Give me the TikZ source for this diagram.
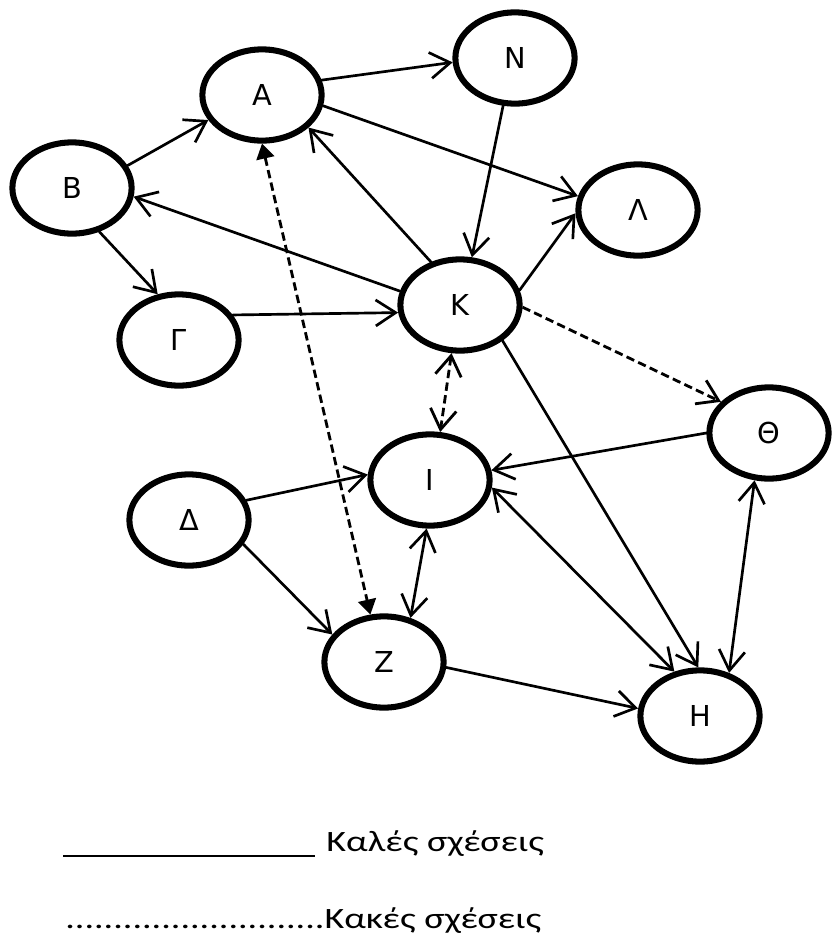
\documentclass[tikz,border=0pt]{standalone}
\usepackage{fontspec}
\setmainfont{DejaVu Sans}
\newfontfamily\legendfont[FakeStretch=1.29]{Carlito}
\usetikzlibrary{shapes.geometric,arrows.meta}

\begin{document}
\begin{tikzpicture}[x=0.025cm, y=-0.025cm, line join=round, line cap=round,
  line width=1.9pt, font=\fontsize{20.5}{24}\selectfont,
  >={Straight Barb[length=0.5cm,width=0.65cm]},
  person/.style={ellipse, draw, line width=4.3pt, minimum width=2.98cm, minimum height=2.28cm, inner sep=0pt},
  bad/.style={line cap=butt, line width=2pt, dash pattern=on 0.21cm off 0.11cm},
  legend/.style={anchor=base west, inner sep=0pt, font=\legendfont\fontsize{21}{25}\selectfont}]
\useasboundingbox (0,0) rectangle (831,934);
% persons
\node[person] (A) at (262,95) {Α};
\node[person] (B) at (72,188) {Β};
\node[person] (G) at (179,340) {Γ};
\node[person] (N) at (515,58) {Ν};
\node[person] (L) at (638,210) {Λ};
\node[person] (K) at (460,305) {Κ};
\node[person] (Th) at (769,433) {Θ};
\node[person] (I) at (430,480) {Ι};
\node[person] (D) at (189,520) {Δ};
\node[person] (Z) at (384,662) {Ζ};
\node[person] (H) at (700,716) {Η};
% good relations
\draw[->] (B.22) -- (A.205);
\draw[->] (A.14) -- (N.184);
\draw[->] (A.350) -- (L.167);
\draw[->] (K.124) -- (A.325);
\draw[->] (K.167) -- (B.352);
\draw[->] (B.302) -- (G.115);
\draw[->] (G.25) -- (K.187);
\draw[->] (N.256) -- (K.76);
\draw[->] (K.14) -- (L.183);
\draw[->] (Th.180) -- (I.9);
\draw[->] (D.19) -- (I.175);
\draw[->] (D.336) -- (Z.152);
\draw[<->] (I.266) -- (Z.59);
\draw[<->] (I.353) -- (H.120);
\draw[->] (K.320) -- (H.92);
\draw[<->] (Th.253) -- (H.56);
\draw[->] (Z.355) -- (H.173);
% bad relations
\draw[bad,->] (K.358) -- (Th.147);
\draw[bad,<->] (K.260) -- (I.78);
\draw[bad,{Triangle[length=0.375cm,width=0.45cm]}-{Triangle[length=0.375cm,width=0.45cm]}] (A.270) -- (Z.106);
% legend
\draw[line width=2.1pt, line cap=butt] (63,856) -- (315,856);
\node[legend] (good) at (325,851) {Καλές σχέσεις};
\node[legend] (bad) at (64,928) {...........................Κακές σχέσεις};
\end{tikzpicture}
\end{document}
